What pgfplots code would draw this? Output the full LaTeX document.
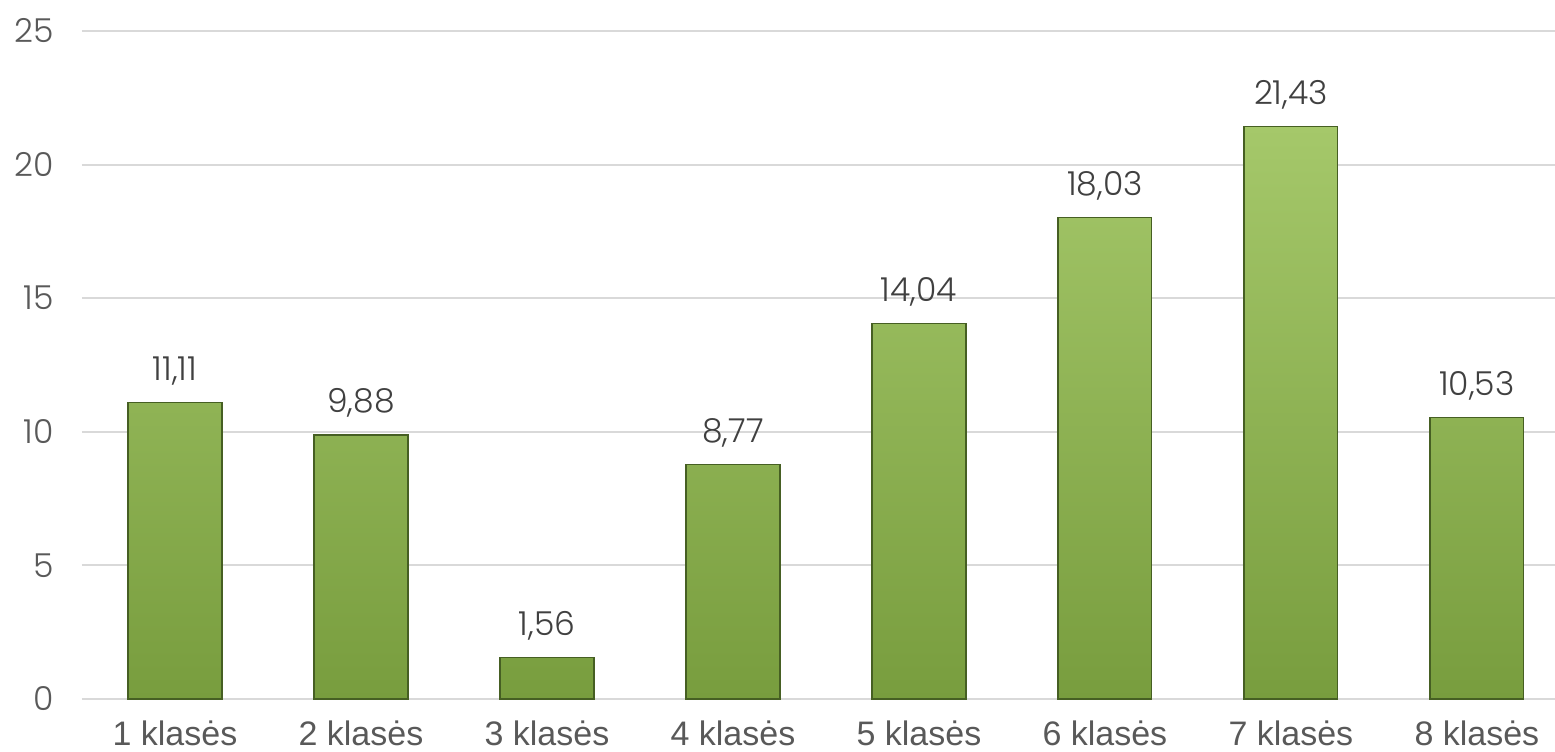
\documentclass[border=0pt]{standalone}
\usepackage{fontspec}
\setmainfont{Liberation Sans}
\newfontfamily\numfont{Poppins Light}
\usepackage{pgfplots}
\pgfplotsset{compat=1.18}
\definecolor{gridc}{HTML}{D9D9D9}
\definecolor{txt}{HTML}{595959}
\definecolor{lbl}{HTML}{404040}
\definecolor{bartop}{RGB}{165,200,106}
\definecolor{barbot}{RGB}{120,157,62}
\definecolor{baredge}{RGB}{70,95,35}
\begin{document}
\begin{tikzpicture}
\useasboundingbox (0,0) rectangle (777.5pt,375.5pt);
\begin{axis}[
  at={(41pt,26pt)}, anchor=south west,
  scale only axis,
  width=736.5pt, height=334pt,
  xmin=-0.5, xmax=7.42,
  ymin=0, ymax=25,
  ytick={0,5,10,15,20,25},
  xtick={0,...,7},
  xticklabels={1 klasės,2 klasės,3 klasės,4 klasės,5 klasės,6 klasės,7 klasės,8 klasės},
  axis line style={draw=none},
  tick style={draw=none},
  ymajorgrids,
  grid style={gridc, line width=1pt},
  yticklabel style={font=\numfont\fontsize{16.5}{19}\selectfont, text=txt, /pgf/number format/assume math mode=true, xshift=-10.5pt},
  xticklabel style={font=\fontsize{17}{20}\selectfont, text=txt, yshift=-3pt},
  ybar, bar width=0.505,
  nodes near coords,
  nodes near coords style={font=\numfont\fontsize{16.5}{19}\selectfont, text=lbl, /pgf/number format/.cd, use comma, fixed, fixed zerofill, precision=2, assume math mode=true, /tikz/.cd, yshift=5pt},
  clip=false,
]
\addplot[draw=baredge, line width=0.6pt, top color=bartop, bottom color=barbot] coordinates {
(0,11.11) (1,9.88) (2,1.56) (3,8.77) (4,14.04) (5,18.03) (6,21.43) (7,10.53)};
\end{axis}
\end{tikzpicture}
\end{document}
